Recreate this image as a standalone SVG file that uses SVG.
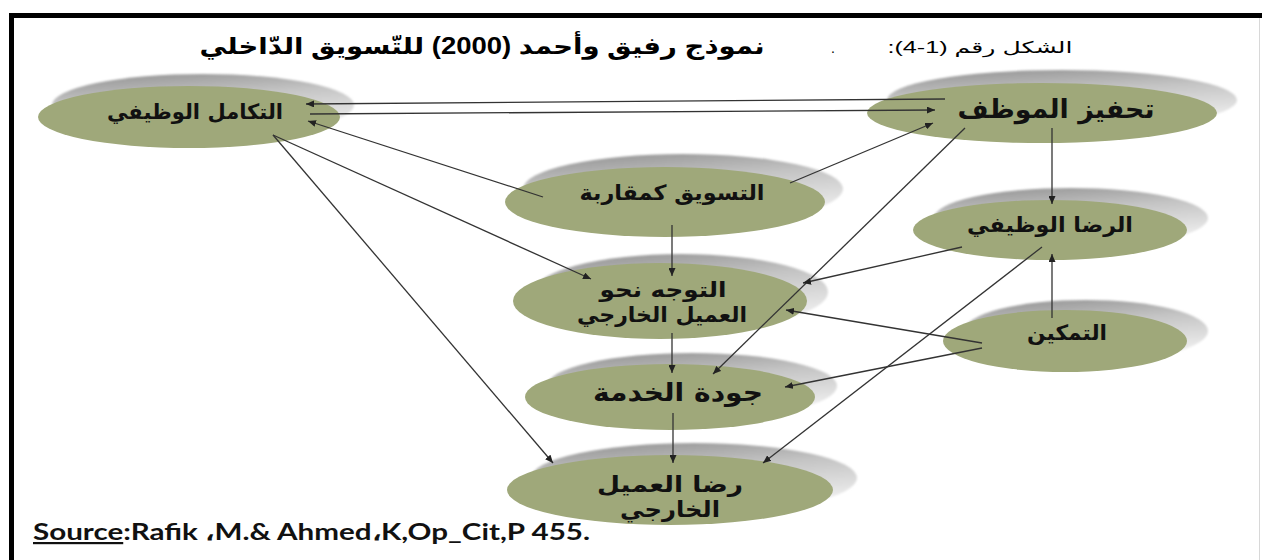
<svg xmlns="http://www.w3.org/2000/svg" width="1262" height="560" viewBox="0 0 1262 560">
  <defs>
    <linearGradient id="shade" x1="0" y1="0" x2="0.3" y2="1">
      <stop offset="0" stop-color="#8f8f8f"/>
      <stop offset="0.45" stop-color="#c4c4c4"/>
      <stop offset="1" stop-color="#efefef"/>
    </linearGradient>
    <filter id="soft" x="-10%" y="-20%" width="120%" height="140%">
      <feGaussianBlur stdDeviation="1.2"/>
    </filter>
    <marker id="head" viewBox="0 0 8 7" markerWidth="8" markerHeight="7" refX="8" refY="3.5" orient="auto" markerUnits="userSpaceOnUse">
      <path d="M0,0 L8,3.5 L0,7 z" fill="#222"/>
    </marker>
  </defs>
  <style>
    .shadow { fill: url(#shade); filter: url(#soft); }
    .disc { fill: #9fa87a; }
    .lbl { font-family: "DejaVu Sans", "Noto Sans", sans-serif; font-weight: bold; fill: #111; text-anchor: middle; direction: rtl; }
    .link { stroke: #333; stroke-width: 1.3; fill: none; marker-end: url(#head); }
  </style>

  <rect width="1262" height="560" fill="#fff"/>

  <!-- frame -->
  <rect x="9" y="13" width="1253" height="5" fill="#000"/>
  <rect x="9" y="13" width="5" height="547" fill="#000"/>
  <line x1="1259.5" y1="18" x2="1259.5" y2="560" stroke="#d8d8d8" stroke-width="1"/>

  <!-- heading -->
  <g id="heading">
    <text x="482" y="54" font-family="'Liberation Sans', 'DejaVu Sans', sans-serif" font-weight="bold" font-size="23" text-anchor="middle" direction="rtl" textLength="565" lengthAdjust="spacingAndGlyphs">نموذج رفيق وأحمد (2000) للتّسويق الدّاخلي</text>
    <text x="833" y="53" font-family="'Liberation Sans', sans-serif" font-size="14" text-anchor="middle">.</text>
    <text x="980" y="53" font-family="'Liberation Sans', 'DejaVu Sans', sans-serif" font-size="16" text-anchor="middle" direction="rtl" textLength="185" lengthAdjust="spacingAndGlyphs">الشكل رقم (1-4):</text>
  </g>

  <!-- nodes -->
  <g id="n-takamul">
    <ellipse class="shadow" cx="203" cy="105" rx="151" ry="31"/>
    <ellipse class="disc" cx="189" cy="117" rx="151" ry="31"/>
    <text class="lbl" x="195" y="119" font-size="21" textLength="176" lengthAdjust="spacingAndGlyphs">التكامل الوظيفي</text>
  </g>
  <g id="n-tahfiz">
    <ellipse class="shadow" cx="1062" cy="100" rx="175" ry="30"/>
    <ellipse class="disc" cx="1042" cy="113" rx="175" ry="30"/>
    <text class="lbl" x="1056" y="118" font-size="26" textLength="197" lengthAdjust="spacingAndGlyphs">تحفيز الموظف</text>
  </g>
  <g id="n-taswiq">
    <ellipse class="shadow" cx="683" cy="189" rx="160" ry="35"/>
    <ellipse class="disc" cx="665" cy="202" rx="160" ry="35"/>
    <text class="lbl" x="672" y="200" font-size="21" textLength="185" lengthAdjust="spacingAndGlyphs">التسويق كمقاربة</text>
  </g>
  <g id="n-rida-wazifi">
    <ellipse class="shadow" cx="1071" cy="218" rx="137" ry="30"/>
    <ellipse class="disc" cx="1050" cy="230" rx="137" ry="30"/>
    <text class="lbl" x="1050" y="232" font-size="21" textLength="166" lengthAdjust="spacingAndGlyphs">الرضا الوظيفي</text>
  </g>
  <g id="n-tawajjuh">
    <ellipse class="shadow" cx="681" cy="292" rx="147" ry="38"/>
    <ellipse class="disc" cx="660" cy="301" rx="147" ry="38"/>
    <text class="lbl" x="663" y="297" font-size="21" textLength="127" lengthAdjust="spacingAndGlyphs">التوجه نحو</text>
    <text class="lbl" x="662" y="322" font-size="21" textLength="170" lengthAdjust="spacingAndGlyphs">العميل الخارجي</text>
  </g>
  <g id="n-tamkin">
    <ellipse class="shadow" cx="1086" cy="331" rx="122" ry="31"/>
    <ellipse class="disc" cx="1065" cy="341" rx="122" ry="31"/>
    <text class="lbl" x="1067" y="340" font-size="21" textLength="80" lengthAdjust="spacingAndGlyphs">التمكين</text>
  </g>
  <g id="n-jawda">
    <ellipse class="shadow" cx="692" cy="386" rx="145" ry="33"/>
    <ellipse class="disc" cx="670" cy="397" rx="145" ry="33"/>
    <text class="lbl" x="678" y="401" font-size="25" textLength="170" lengthAdjust="spacingAndGlyphs">جودة الخدمة</text>
  </g>
  <g id="n-rida-amil">
    <ellipse class="shadow" cx="694" cy="478" rx="163" ry="35"/>
    <ellipse class="disc" cx="670" cy="490" rx="163" ry="35"/>
    <text class="lbl" x="670" y="492" font-size="22" textLength="146" lengthAdjust="spacingAndGlyphs">رضا العميل</text>
    <text class="lbl" x="670" y="517" font-size="22" textLength="100" lengthAdjust="spacingAndGlyphs">الخارجي</text>
  </g>

  <!-- connectors -->
  <g id="connectors">
    <line class="link" x1="945" y1="99" x2="306" y2="104"/>
    <line class="link" x1="310" y1="114" x2="935" y2="110"/>
    <line class="link" x1="543" y1="197" x2="308" y2="121"/>
    <line class="link" x1="790" y1="183" x2="933" y2="123"/>
    <line class="link" x1="273" y1="135" x2="591" y2="279"/>
    <line class="link" x1="273" y1="135" x2="553" y2="463"/>
    <line class="link" x1="1052" y1="128" x2="1052" y2="204"/>
    <line class="link" x1="1052" y1="318" x2="1052" y2="254"/>
    <line class="link" x1="965" y1="128" x2="713" y2="374"/>
    <line class="link" x1="962" y1="247" x2="803" y2="283"/>
    <line class="link" x1="1042" y1="247" x2="763" y2="463"/>
    <line class="link" x1="982" y1="343" x2="786" y2="310"/>
    <line class="link" x1="982" y1="348" x2="785" y2="387"/>
    <line class="link" x1="672" y1="225" x2="672" y2="276"/>
    <line class="link" x1="672" y1="333" x2="672" y2="373"/>
    <line class="link" x1="673" y1="413" x2="673" y2="463"/>
  </g>

  <!-- reference line -->
  <text x="33" y="540" font-family="Lato, 'Open Sans', sans-serif" font-weight="bold" font-size="22" fill="#111" textLength="557" lengthAdjust="spacingAndGlyphs"><tspan text-decoration="underline">Source</tspan>:Rafik ،M.&amp; Ahmed،K,Op_Cit,P 455.</text>
</svg>
